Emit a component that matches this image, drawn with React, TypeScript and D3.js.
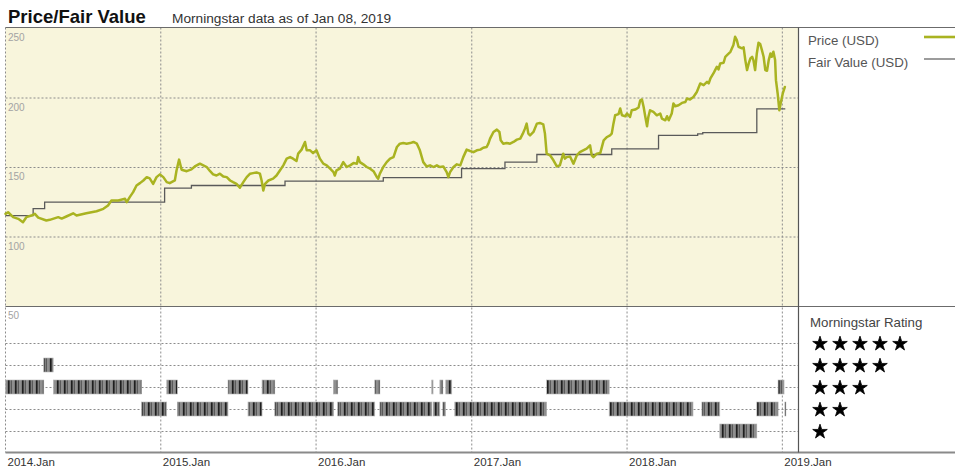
import * as d3 from 'd3'

const parse = d3.timeParse('%Y-%m-%d')

// price (USD)
const priceData: [string, number][] = [
  ['2014-01-01', 116.3], ['2014-01-07', 117.5], ['2014-01-19', 113.9], ['2014-01-31', 112.7],
  ['2014-02-11', 110.3], ['2014-02-19', 113.9], ['2014-03-03', 115.1], ['2014-03-11', 116.3],
  ['2014-03-19', 113.6], ['2014-04-07', 111.5], ['2014-04-15', 112.0], ['2014-05-05', 113.9],
  ['2014-05-13', 112.9], ['2014-05-24', 114.4], ['2014-06-09', 116.7], ['2014-06-17', 115.1],
  ['2014-07-10', 116.7], ['2014-08-03', 118.2], ['2014-08-19', 119.9], ['2014-08-30', 122.3],
  ['2014-09-07', 125.9], ['2014-09-23', 125.9], ['2014-10-09', 127.1], ['2014-10-13', 124.7],
  ['2014-10-20', 128.3], ['2014-10-28', 131.9], ['2014-11-05', 136.7], ['2014-11-13', 138.4],
  ['2014-11-21', 140.3], ['2014-11-29', 142.7], ['2014-12-06', 141.8], ['2014-12-14', 137.9],
  ['2014-12-22', 142.7], ['2014-12-30', 144.7], ['2015-01-07', 142.7], ['2015-01-15', 139.1],
  ['2015-01-22', 138.4], ['2015-02-03', 140.3], ['2015-02-07', 147.5], ['2015-02-13', 155.3],
  ['2015-02-19', 148.0], ['2015-03-03', 147.0], ['2015-03-14', 148.3], ['2015-03-22', 150.4],
  ['2015-04-03', 152.4], ['2015-04-11', 151.2], ['2015-04-19', 150.0], ['2015-04-27', 147.0],
  ['2015-05-04', 144.7], ['2015-05-12', 143.9], ['2015-05-20', 145.2], ['2015-05-28', 143.2],
  ['2015-06-05', 142.7], ['2015-06-13', 140.3], ['2015-06-20', 139.1], ['2015-06-28', 137.9],
  ['2015-07-06', 135.1], ['2015-07-14', 139.1], ['2015-07-22', 142.7], ['2015-07-30', 145.2],
  ['2015-08-06', 145.6], ['2015-08-14', 146.1], ['2015-08-22', 145.2], ['2015-08-26', 140.3],
  ['2015-08-30', 133.1], ['2015-09-03', 137.9], ['2015-09-11', 140.3], ['2015-09-22', 141.6],
  ['2015-09-30', 143.9], ['2015-10-08', 147.5], ['2015-10-16', 151.2], ['2015-10-24', 156.0],
  ['2015-11-01', 157.1], ['2015-11-08', 156.0], ['2015-11-16', 154.3], ['2015-11-20', 159.6],
  ['2015-11-28', 162.5], ['2015-12-06', 168.0], ['2015-12-10', 162.0], ['2015-12-18', 162.0],
  ['2015-12-25', 160.0], ['2016-01-02', 162.0], ['2016-01-10', 156.0], ['2016-01-18', 152.4],
  ['2016-01-26', 151.2], ['2016-02-03', 148.8], ['2016-02-11', 146.3], ['2016-02-14', 143.9],
  ['2016-02-18', 147.5], ['2016-02-26', 148.8], ['2016-03-05', 153.5], ['2016-03-13', 150.0],
  ['2016-03-21', 151.2], ['2016-03-29', 152.8], ['2016-04-06', 152.4], ['2016-04-09', 157.1],
  ['2016-04-13', 153.5], ['2016-04-21', 151.9], ['2016-04-29', 150.0], ['2016-05-07', 148.8],
  ['2016-05-15', 147.0], ['2016-05-23', 142.7], ['2016-05-26', 141.6], ['2016-05-30', 145.2],
  ['2016-06-07', 150.0], ['2016-06-15', 153.5], ['2016-06-23', 156.0], ['2016-07-01', 157.1],
  ['2016-07-09', 164.4], ['2016-07-16', 166.8], ['2016-07-24', 167.2], ['2016-08-01', 166.8],
  ['2016-08-09', 167.2], ['2016-08-17', 168.0], ['2016-08-25', 166.8], ['2016-09-01', 162.0],
  ['2016-09-09', 153.5], ['2016-09-17', 150.4], ['2016-09-25', 151.2], ['2016-10-03', 150.0],
  ['2016-10-11', 151.2], ['2016-10-18', 150.0], ['2016-10-26', 150.4], ['2016-11-03', 146.3],
  ['2016-11-07', 142.7], ['2016-11-11', 146.3], ['2016-11-19', 150.0], ['2016-11-27', 151.9],
  ['2016-12-05', 151.2], ['2016-12-12', 157.1], ['2016-12-20', 162.5], ['2016-12-28', 161.5],
  ['2017-01-05', 160.7], ['2017-01-13', 162.0], ['2017-01-21', 162.5], ['2017-01-28', 163.9],
  ['2017-02-05', 164.4], ['2017-02-09', 166.8], ['2017-02-13', 170.4], ['2017-02-21', 175.2],
  ['2017-03-01', 176.9], ['2017-03-07', 175.2], ['2017-03-10', 169.2], ['2017-03-16', 166.8],
  ['2017-03-24', 167.2], ['2017-04-01', 166.8], ['2017-04-09', 168.0], ['2017-04-17', 169.7],
  ['2017-04-25', 170.4], ['2017-05-01', 174.0], ['2017-05-06', 177.6], ['2017-05-10', 181.2],
  ['2017-05-14', 174.0], ['2017-05-18', 172.8], ['2017-05-26', 175.2], ['2017-06-03', 181.2],
  ['2017-06-10', 181.7], ['2017-06-18', 180.7], ['2017-06-22', 174.0], ['2017-06-26', 159.6],
  ['2017-07-04', 158.4], ['2017-07-12', 154.8], ['2017-07-20', 150.4], ['2017-07-27', 151.2],
  ['2017-08-04', 159.6], ['2017-08-08', 156.0], ['2017-08-12', 157.1], ['2017-08-20', 157.6],
  ['2017-08-28', 152.4], ['2017-09-05', 158.4], ['2017-09-12', 160.7], ['2017-09-20', 162.0],
  ['2017-09-28', 163.2], ['2017-10-06', 165.6], ['2017-10-10', 158.4], ['2017-10-14', 157.1],
  ['2017-10-22', 159.6], ['2017-10-30', 160.0], ['2017-11-07', 169.2], ['2017-11-15', 171.6],
  ['2017-11-22', 172.8], ['2017-11-26', 174.0], ['2017-11-30', 181.2], ['2017-12-04', 187.2],
  ['2017-12-12', 188.0], ['2017-12-16', 192.1], ['2017-12-20', 187.2], ['2017-12-28', 186.5],
  ['2018-01-01', 188.5], ['2018-01-08', 186.0], ['2018-01-12', 190.8], ['2018-01-20', 191.3],
  ['2018-01-28', 192.8], ['2018-02-01', 198.0], ['2018-02-05', 198.6], ['2018-02-09', 193.2],
  ['2018-02-13', 186.0], ['2018-02-17', 179.3], ['2018-02-20', 186.0], ['2018-02-24', 190.8],
  ['2018-03-04', 189.6], ['2018-03-12', 187.2], ['2018-03-20', 188.5], ['2018-03-24', 184.8],
  ['2018-04-01', 183.6], ['2018-04-05', 186.5], ['2018-04-09', 183.6], ['2018-04-16', 188.5],
  ['2018-04-20', 195.7], ['2018-04-24', 193.7], ['2018-05-02', 194.4], ['2018-05-10', 196.1],
  ['2018-05-18', 196.8], ['2018-05-22', 199.3], ['2018-05-29', 198.6], ['2018-06-06', 200.4],
  ['2018-06-14', 204.0], ['2018-06-22', 210.1], ['2018-06-30', 208.9], ['2018-07-08', 211.3],
  ['2018-07-12', 210.1], ['2018-07-16', 213.7], ['2018-07-23', 217.3], ['2018-07-27', 219.7],
  ['2018-07-31', 222.1], ['2018-08-04', 220.2], ['2018-08-08', 224.5], ['2018-08-16', 225.0],
  ['2018-08-20', 229.3], ['2018-08-24', 230.5], ['2018-09-01', 232.9], ['2018-09-08', 237.7],
  ['2018-09-12', 243.7], ['2018-09-16', 241.3], ['2018-09-20', 236.5], ['2018-09-28', 235.4],
  ['2018-10-02', 236.1], ['2018-10-06', 226.9], ['2018-10-10', 219.7], ['2018-10-14', 224.5],
  ['2018-10-18', 228.1], ['2018-10-22', 229.3], ['2018-10-25', 226.9], ['2018-10-29', 219.7],
  ['2018-11-02', 231.7], ['2018-11-06', 239.4], ['2018-11-10', 238.5], ['2018-11-14', 234.1],
  ['2018-11-18', 229.3], ['2018-11-22', 219.7], ['2018-11-26', 219.2], ['2018-11-30', 226.9],
  ['2018-12-04', 231.7], ['2018-12-07', 229.3], ['2018-12-11', 232.9], ['2018-12-15', 226.9],
  ['2018-12-17', 212.5], ['2018-12-21', 202.9], ['2018-12-25', 190.8], ['2018-12-28', 195.7],
  ['2019-01-02', 202.9], ['2019-01-07', 207.6],
]

// fair value (USD), step changes
const fairValueData: [string, number][] = [
  ['2014-01-01', 115.0], ['2014-03-07', 120.0], ['2014-04-03', 124.8], ['2015-01-10', 134.8],
  ['2015-03-14', 136.7], ['2015-10-20', 139.8], ['2016-06-07', 142.4], ['2016-12-08', 148.8],
  ['2017-03-20', 153.5], ['2017-06-03', 159.0], ['2017-11-26', 163.0], ['2018-03-16', 172.8],
  ['2018-06-16', 173.8], ['2018-06-28', 174.7], ['2018-11-02', 191.8], ['2019-01-08', 191.8],
]

// morningstar rating periods: start, end, stars
const ratingData: [string, string, number][] = [
  ['2014-01-01', '2014-04-01', 3], ['2014-04-01', '2014-04-23', 4], ['2014-04-24', '2014-11-17', 3],
  ['2014-11-17', '2015-01-15', 2], ['2015-01-15', '2015-02-09', 3], ['2015-02-09', '2015-06-08', 2],
  ['2015-06-08', '2015-07-25', 3], ['2015-07-25', '2015-08-27', 2], ['2015-08-27', '2015-09-26', 3],
  ['2015-09-26', '2016-02-11', 2], ['2016-02-11', '2016-02-21', 3], ['2016-02-21', '2016-05-18', 2],
  ['2016-05-18', '2016-05-30', 3], ['2016-05-30', '2016-09-29', 2], ['2016-09-29', '2016-10-02', 3],
  ['2016-10-02', '2016-10-18', 2], ['2016-10-18', '2016-10-25', 3], ['2016-10-25', '2016-10-31', 2],
  ['2016-11-01', '2016-11-15', 3], ['2016-11-22', '2017-06-26', 2], ['2017-06-26', '2017-11-20', 3],
  ['2017-11-20', '2018-06-05', 2], ['2018-06-26', '2018-08-07', 2], ['2018-08-07', '2018-11-02', 1],
  ['2018-11-02', '2018-12-22', 2], ['2018-12-22', '2019-01-05', 3], ['2019-01-07', '2019-01-08', 2],
]

const yearTicks = ['2014-01-01', '2015-01-01', '2016-01-01', '2017-01-01', '2018-01-01', '2019-01-01']
const priceTicks = [50, 100, 150, 200, 250]
const starRows = [5, 4, 3, 2, 1]
const legendItems = ['Price (USD)', 'Fair Value (USD)']

const FONT = 'Liberation Sans, Arial, sans-serif'
const GREEN = '#a9b321'
const GRID = '#8c8c8c'

export default function App() {
  const width = 955
  const height = 469
  const left = 5.5
  const right = 798.5
  const top = 27.5
  const mid = 306
  const bottom = 452.5

  const x = d3.scaleTime()
    .domain([parse('2014-01-01')!, parse('2019-02-08')!])
    .range([left, right])
  const yPrice = d3.scaleLinear().domain([50, 250]).range([mid, 28])
  const yRating = d3.scaleLinear().domain([1, 5]).range([431, 343])

  const priceLine = d3.line<[string, number]>()
    .x(d => x(parse(d[0])!))
    .y(d => yPrice(d[1]))
    .curve(d3.curveLinear)
  const fvLine = d3.line<[string, number]>()
    .x(d => x(parse(d[0])!))
    .y(d => yPrice(d[1]))
    .curve(d3.curveStepAfter)

  const star = d3.symbol().type(d3.symbolStar).size(66)()
  const fmtYear = d3.timeFormat('%Y.%b')

  return (
    <svg width={width} height={height} style={{position: 'absolute', left: 0, top: 0}} fontFamily={FONT}>
      <defs>
        <pattern id="ratingStripes" patternUnits="userSpaceOnUse" width={7} height={14}>
          <rect width={7} height={14} fill="#7e7e7e" />
          <rect x={1} width={1.6} height={14} fill="#1e1e1e" />
          <rect x={4} width={1} height={14} fill="#5a5a5a" />
          <rect x={5.6} width={0.8} height={14} fill="#a8a8a8" />
        </pattern>
      </defs>

      <text x={8} y={23} fontSize={18.5} fontWeight={700} fill="#111">Price/Fair Value</text>
      <text x={172} y={23} fontSize={13.7} fill="#333">Morningstar data as of Jan 08, 2019</text>

      {/* backgrounds */}
      <rect x={left} y={top} width={right - left} height={mid - top} fill="#f8f5dc" />

      {/* horizontal grid, price panel */}
      {priceTicks.filter(t => t > 50 && t < 250).map(t => (
        <line key={t} x1={left} x2={right} y1={yPrice(t) + 0.5} y2={yPrice(t) + 0.5}
          stroke={GRID} strokeDasharray="2,2" strokeWidth={1} />
      ))}
      {/* horizontal grid, rating panel */}
      {starRows.map(r => (
        <line key={r} x1={left} x2={right} y1={yRating(r) + 0.5} y2={yRating(r) + 0.5}
          stroke={GRID} strokeDasharray="2,2" strokeWidth={1} />
      ))}
      {/* vertical grid */}
      {yearTicks.map(t => (
        <line key={t} x1={x(parse(t)!)} x2={x(parse(t)!)} y1={top} y2={bottom}
          stroke={GRID} strokeDasharray="2,2" strokeWidth={1} />
      ))}

      {/* price axis labels */}
      {priceTicks.map(t => (
        <text key={t} x={8} y={yPrice(t) + 13} fontSize={10} fill="#a3a3a3">{t}</text>
      ))}

      {/* rating bars */}
      {ratingData.map((d, i) => {
        const x0 = x(parse(d[0])!)
        const x1 = x(parse(d[1])!)
        return (
          <rect key={i} x={x0} y={yRating(d[2]) - 7} width={Math.max(1, x1 - x0)} height={14}
            fill="url(#ratingStripes)" stroke="#b5b5b5" strokeWidth={0.6} />
        )
      })}

      {/* fair value + price */}
      <path d={fvLine(fairValueData) ?? undefined} fill="none" stroke="#5a5a5a" strokeWidth={1.3} />
      <path d={priceLine(priceData) ?? undefined} fill="none" stroke={GREEN} strokeWidth={2.5}
        strokeLinejoin="round" strokeLinecap="round" />

      {/* frame */}
      <line x1={left} x2={width} y1={top} y2={top} stroke="#6b6b6b" strokeWidth={1} />
      <line x1={left} x2={width} y1={mid + 0.5} y2={mid + 0.5} stroke="#6b6b6b" strokeWidth={1} />
      <line x1={left} x2={width} y1={bottom} y2={bottom} stroke="#8a8a8a" strokeWidth={2} />
      <line x1={right} x2={right} y1={top} y2={bottom} stroke="#555" strokeWidth={1.2} />

      {/* year labels */}
      {yearTicks.map(t => (
        <text key={t} x={x(parse(t)!) + 2} y={465.5} fontSize={11.5} fill="#333">
          {fmtYear(parse(t)!)}
        </text>
      ))}

      {/* legend */}
      {legendItems.map((label, i) => (
        <g key={label} transform={`translate(0, ${i * 22})`}>
          <text x={808} y={45} fontSize={13.3} fill="#555">{label}</text>
          <line x1={924} x2={955} y1={37} y2={37}
            stroke={i === 0 ? GREEN : '#5a5a5a'} strokeWidth={i === 0 ? 2.6 : 1.2} />
        </g>
      ))}

      <text x={810} y={326.5} fontSize={13.3} fill="#444">Morningstar Rating</text>
      {starRows.map(r => (
        <g key={r}>
          {d3.range(r).map(j => (
            <path key={j} d={star ?? undefined} fill="#000" stroke="#000" strokeWidth={0.8}
              strokeLinejoin="round"
              transform={`translate(${820 + j * 20}, ${yRating(r) + 0.8})`} />
          ))}
        </g>
      ))}
    </svg>
  )
}
